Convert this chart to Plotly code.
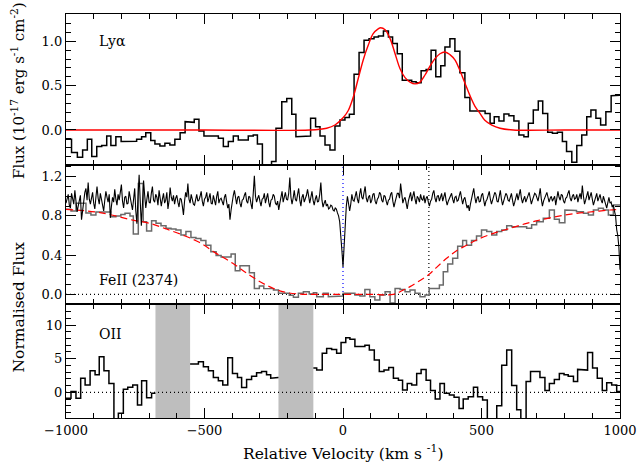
import numpy as np
import plotly.graph_objects as go

# ---------------- data ----------------
# Top panel: Ly-alpha spectrum (histogram, bin left edges in km/s)
lya_v = [-1000, -980, -959, -940, -923, -907, -889, -871, -853, -838, -820, -801, -781, -763,
         -745, -727, -712, -694, -679, -661, -643, -625, -607, -588, -570, -552, -537, -520,
         -502, -485, -468, -450, -432, -414, -396, -378, -360, -342, -324, -309, -291, -276,
         -258, -242, -221, -203, -185, -170, -149, -134, -117, -99, -83, -65, -47, -29, -11,
         7, 23, 40, 58, 76, 94, 112, 128, 146, 164, 179, 196, 214, 232, 248, 264, 282, 300,
         318, 335, 353, 368, 386, 404, 422, 440, 458, 477, 495, 513, 531, 546, 563, 581, 599,
         617, 635, 653, 669, 687, 705, 721, 739, 756, 774, 792, 807, 826, 844, 862, 880, 895,
         913, 930, 949, 968, 986]
lya_flux = [-0.105, -0.255, -0.307, -0.225, -0.105, -0.30, -0.187, -0.176, -0.067, -0.176,
            -0.075, -0.131, -0.127, -0.127, -0.105, -0.075, -0.03, -0.12, -0.157, -0.18,
            -0.15, -0.169, -0.105, -0.03, 0.094, 0.086, 0.12, -0.011, -0.067, -0.067, -0.067,
            -0.094, -0.187, -0.131, -0.067, -0.112, -0.112, -0.067, -0.056, -0.157, -0.6, -0.6,
            -0.356, 0.019, 0.318, 0.356, 0.176, -0.075, -0.067, -0.067, 0.131, 0.037, -0.067,
            -0.169, -0.225, 0.045, 0.112, 0.142, 0.176, 0.629, 0.873, 1.011, 1.03, 1.049, 1.06,
            1.116, 1.049, 0.974, 0.861, 0.562, 0.562, 0.543, 0.532, 0.667, 0.682, 0.899, 0.599,
            0.723, 0.936, 1.03, 0.888, 0.644, 0.367, 0.213, 0.213, 0.213, 0.187, 0.075, 0.15,
            0.101, 0.18, 0.161, 0.101, -0.056, -0.075, 0.075, 0.225, 0.326, 0.187, -0.026,
            -0.037, -0.026, -0.131, -0.243, -0.363, -0.176, -0.056, 0.15, 0.225, 0.131, 0.056,
            0.206, 0.386, 0.393]

# Top panel: fitted double-peak model
lya_model_v = [-1000, -500, -119, -59, -29, 1, 19, 37, 55, 73, 91, 109, 127, 136, 152, 170,
               188, 206, 224, 242, 260, 278, 296, 314, 332, 350, 368, 386, 404, 422, 440, 458,
               476, 494, 512, 537, 567, 615, 800, 1000]
lya_model = [0.0, 0.0, 0.0, 0.02, 0.056, 0.14, 0.22, 0.37, 0.58, 0.79, 0.955, 1.086, 1.14,
             1.153, 1.13, 1.03, 0.86, 0.69, 0.59, 0.54, 0.52, 0.54, 0.62, 0.72, 0.805, 0.86,
             0.88, 0.85, 0.79, 0.67, 0.53, 0.39, 0.27, 0.19, 0.11, 0.056, 0.02, 0.0, 0.0, 0.0]

# Middle panel: FeII (2374) histogram (bin left edges)
feii_v = [-1000, -982, -964, -946, -928, -910, -892, -874, -856, -838, -820, -802, -787, -769,
          -757, -739, -721, -709, -691, -675, -657, -639, -621, -603, -585, -567, -549, -531,
          -513, -495, -477, -458, -440, -422, -404, -389, -372, -354, -338, -320, -302, -286,
          -268, -251, -233, -215, -194, -179, -161, -143, -122, -107, -95, -71, -53, -35, 1,
          43, 61, 79, 97, 115, 133, 152, 170, 188, 206, 224, 242, 260, 278, 296, 311, 330,
          348, 362, 378, 396, 414, 432, 446, 464, 482, 500, 519, 537, 555, 573, 591, 609,
          627, 645, 663, 681, 699, 723, 745, 763, 781, 801, 819, 843, 868, 886, 904, 922,
          940, 958, 976]
feii_flux = [0.867, 0.85, 0.93, 0.93, 0.83, 0.81, 0.84, 0.84, 0.84, 0.79, 0.80, 0.815, 0.826,
             0.80, 0.615, 1.13, 0.74, 0.646, 0.75, 0.725, 0.70, 0.675, 0.667, 0.656, 0.605,
             0.64, 0.58, 0.57, 0.55, 0.50, 0.435, 0.395, 0.38, 0.38, 0.41, 0.24, 0.29, 0.29,
             0.22, 0.06, 0.085, 0.06, 0.058, 0.044, 0.01, 0.01, -0.01, -0.03, 0.01, 0.027,
             0.003, 0.017, -0.024, 0.01, -0.024, -0.017, 0.01, -0.007, -0.017, 0.05, -0.024,
             -0.058, -0.007, 0.027, -0.09, 0.06, 0.05, 0.027, 0.044, 0.01, -0.024, -0.007,
             0.06, 0.06, 0.095, 0.23, 0.31, 0.367, 0.49, 0.55, 0.50, 0.55, 0.595, 0.656, 0.64,
             0.605, 0.64, 0.656, 0.70, 0.69, 0.69, 0.69, 0.675, 0.71, 0.74, 0.776, 0.86,
             0.765, 0.73, 0.86, 0.854, 0.843, 0.826, 0.81, 0.86, 0.877, 0.86, 0.81, 0.91]

# Middle panel: model (red dashed)
feii_model_v = [-1000, -877, -759, -699, -639, -579, -519, -459, -398, -338, -278, -218,
                -158, -100, 0, 100, 182, 218, 242, 278, 311, 338, 374, 410, 446, 482, 543,
                603, 663, 723, 784, 844, 904, 964, 1000]
feii_model = [0.867, 0.833, 0.757, 0.725, 0.667, 0.605, 0.53, 0.42, 0.316, 0.197, 0.095,
              0.027, 0.003, 0.0, 0.0, 0.0, 0.0, 0.044, 0.078, 0.14, 0.204, 0.275, 0.367,
              0.445, 0.50, 0.554, 0.622, 0.673, 0.724, 0.765, 0.80, 0.826, 0.843, 0.86, 0.867]

# Middle panel: high-resolution normalised spectrum (black), every 4 km/s, -1000..1000
hires_flux = [
    0.93, 0.99, 1.02, 0.91, 0.88, 1.03, 0.97, 0.92, 1.06, 0.95,
    0.84, 0.90, 0.95, 1.01, 0.76, 0.87, 0.99, 1.04, 1.08, 0.96,
    1.14, 0.97, 0.92, 1.01, 1.04, 0.93, 0.87, 0.99, 1.10, 0.98,
    0.92, 1.03, 0.98, 0.90, 0.85, 0.96, 1.05, 0.99, 0.94, 1.02,
    0.78, 0.90, 0.99, 0.94, 1.07, 0.97, 0.91, 1.02, 0.96, 1.04,
    1.12, 0.95, 0.88, 0.99, 1.00, 0.92, 0.93, 1.05, 0.97, 0.90,
    0.86, 0.97, 1.08, 0.85, 0.72, 1.00, 1.22, 0.95, 0.70, 0.92,
    1.16, 1.01, 0.88, 0.97, 1.05, 0.94, 0.93, 1.03, 1.10, 0.96,
    0.94, 1.02, 0.99, 0.91, 1.06, 0.98, 0.90, 0.97, 1.03, 0.93,
    0.96, 1.04, 0.87, 0.95, 1.09, 0.99, 0.95, 1.01, 0.92, 0.98,
    1.01, 0.94, 0.89, 0.98, 0.97, 0.90, 0.81, 0.95, 1.04, 0.99,
    1.13, 0.97, 0.93, 1.02, 0.98, 0.92, 0.91, 0.99, 1.02, 0.95,
    0.96, 1.00, 1.05, 0.95, 0.90, 0.97, 0.99, 1.04, 0.94, 0.98,
    1.03, 0.93, 0.92, 1.01, 0.97, 0.91, 1.00, 1.05, 0.93, 0.97,
    0.98, 0.93, 0.91, 0.99, 1.02, 0.94, 0.88, 0.92, 0.76, 0.86,
    0.95, 1.01, 1.06, 0.97, 0.92, 0.99, 1.00, 0.93, 0.89, 0.96,
    0.97, 1.01, 1.04, 0.95, 0.93, 1.00, 0.99, 0.92, 0.87, 1.03,
    1.21, 1.00, 0.94, 0.98, 1.01, 0.95, 0.90, 0.97, 0.98, 1.03,
    0.93, 0.98, 1.03, 0.94, 0.89, 0.96, 0.97, 1.02, 1.00, 0.93,
    0.91, 0.95, 0.86, 0.93, 0.99, 1.05, 0.94, 0.98, 1.04, 0.97,
    0.96, 1.03, 1.19, 0.99, 0.92, 0.98, 1.06, 0.97, 0.95, 1.02,
    1.08, 0.96, 0.90, 0.99, 1.02, 0.94, 0.97, 1.01, 1.07, 0.98,
    0.93, 0.99, 1.05, 0.96, 0.91, 0.97, 1.01, 0.94, 0.95, 1.02,
    1.14, 0.96, 0.89, 0.93, 0.96, 0.90, 0.92, 0.87, 0.88, 0.91,
    0.90, 0.86, 0.85, 0.88, 0.87, 0.83, 0.80, 0.74, 0.62, 0.45,
    0.28, 0.50, 0.70, 0.90, 1.00, 0.93, 0.85, 0.92, 1.02, 0.96,
    0.95, 1.00, 1.05, 0.97, 0.93, 1.02, 1.08, 0.99, 0.97, 1.04,
    1.10, 0.98, 0.94, 0.99, 1.01, 0.93, 0.96, 1.02, 1.03, 0.95,
    0.92, 0.97, 0.99, 1.04, 1.02, 0.96, 0.94, 1.01, 1.00, 0.95,
    0.91, 0.96, 0.97, 1.02, 1.04, 0.95, 0.89, 0.94, 0.98, 1.03,
    1.03, 0.98, 1.13, 1.00, 0.93, 0.97, 0.99, 0.93, 0.87, 0.95,
    1.00, 1.04, 0.95, 0.99, 1.05, 0.97, 0.92, 1.00, 0.98, 0.94,
    1.02, 0.97, 0.96, 1.01, 0.93, 0.98, 1.00, 0.94, 0.90, 0.95,
    0.97, 1.03, 1.06, 0.98, 0.94, 1.00, 1.01, 0.95, 0.99, 1.03,
    0.95, 0.99, 1.04, 0.96, 0.91, 0.95, 0.98, 1.02, 1.03, 0.97,
    0.93, 0.99, 1.00, 0.95, 0.96, 1.01, 1.05, 0.98, 0.92, 0.97,
    0.99, 0.93, 0.88, 0.91, 0.85, 0.92, 0.97, 1.02, 1.08, 0.99,
    0.93, 0.98, 1.00, 0.94, 0.95, 1.01, 1.03, 0.96, 0.90, 0.95,
    0.97, 1.01, 1.05, 0.97, 0.92, 0.96, 0.99, 1.04, 1.02, 0.95,
    0.94, 1.00, 1.06, 0.97, 0.91, 0.95, 0.98, 1.03, 1.01, 0.96,
    0.95, 0.99, 1.03, 0.96, 0.90, 0.94, 0.99, 1.03, 0.96, 1.01,
    1.07, 0.98, 0.93, 0.97, 1.00, 0.94, 0.97, 1.02, 1.04, 0.98,
    0.92, 0.96, 0.99, 1.03, 1.02, 0.97, 0.95, 1.01, 1.08, 0.97,
    0.90, 0.95, 0.98, 1.02, 1.04, 0.99, 0.94, 0.98, 1.00, 0.95,
    0.97, 1.00, 0.91, 0.97, 1.05, 0.99, 0.96, 1.02, 1.01, 0.95,
    0.93, 0.98, 0.99, 1.03, 1.06, 0.98, 0.95, 1.00, 1.02, 0.97,
    0.98, 1.02, 0.94, 0.99, 1.03, 0.97, 1.11, 1.00, 0.92, 0.96,
    1.00, 1.05, 0.96, 0.99, 1.04, 0.97, 0.91, 0.95, 0.99, 1.03,
    0.95, 0.99, 1.02, 0.96, 0.93, 1.00, 0.97, 0.92, 0.88, 0.95,
    0.99, 0.93, 0.94, 0.89, 0.91, 0.85, 0.80, 0.66, 0.60, 0.48,
    0.25]

# Bottom panel: OII histogram (None = masked region)
oii_v = [-1000, -982, -964, -947, -931, -913, -895, -880, -863, -845, -827, -811, -793, -777,
         -759, -742, -727, -709, -691, -677,
         -552, -522, -504, -486, -468, -450, -434, -416, -399, -381, -366, -348, -330, -312,
         -294, -276, -261, -249, -233,
         -107, -95, -75, -59, -41, -23, -7, 10, 25, 43, 61, 79, 95, 113, 131, 148, 165, 182,
         200, 215, 232, 248, 266, 282, 300, 316, 333, 350, 366, 384, 401, 419, 434, 452,
         471, 486, 504, 521, 555, 573, 591, 609, 627, 642, 661, 677, 711, 729, 745, 763,
         781, 798, 813, 832, 847, 865, 883, 901, 918, 936, 952, 970, 988]
oii_flux = [-0.9, 0.1, -0.9, 2.1, 1.1, 3.2, 2.6, 5.3, 3.2, 1.3, -6.0, -3.1, 0.45, 0.74, 1.1,
            -1.9, 1.7, -0.8, -0.15, None,
            4.2, 4.55, 3.8, 3.2, 2.2, 1.7, 1.1, 5.15, 2.8, 2.2, 0.7, 1.9, 2.4, 2.9, 3.1, 2.6,
            2.1, 2.2, None,
            3.6, 3.3, 5.8, 6.5, 6.35, 5.8, 7.4, 8.1, 7.9, 6.8, 6.8, 7.0, 6.3, 4.8, 3.1, 3.3,
            3.7, 2.1, 1.8, 0.35, 1.3, 1.1, 2.8, 3.4, 1.8, 0.25, -1.0, 1.3, -0.15, -0.4, -0.75,
            -2.4, -1.0, -0.65, 0.75, -0.65, -1.14, -6.0, -2.0, 4.0, 6.3, 1.0, -2.6, -6.0, 1.6,
            3.1, 2.2, 0.25, 1.3, 1.9, 2.8, 2.6, 2.4, 1.6, 3.4, 3.3, 5.9, 3.6, 2.1, 0.25, 1.4,
            1.1, 0.1]

# masked (shaded) velocity ranges in the OII panel
oii_masks = [(-677, -552), (-233, -107)]
# reference velocities marked in the FeII panel
vmarks = [(0, "blue"), (310, "black")]

# ---------------- helpers ----------------
V_END = 1000


def steps(edges, vals, end=V_END):
    xs, ys = [], []
    for i, (e, v) in enumerate(zip(edges, vals)):
        nxt = edges[i + 1] if i + 1 < len(edges) else end
        if v is None:
            xs.append(None)
            ys.append(None)
            continue
        xs += [e, nxt]
        ys += [v, v]
    return xs, ys


FONT = "DejaVu Serif"
fig = go.Figure()

# top panel
x, y = steps(lya_v, lya_flux)
fig.add_trace(go.Scatter(x=x, y=y, mode="lines", line=dict(color="black", width=1.5),
                         xaxis="x", yaxis="y", showlegend=False))
fig.add_trace(go.Scatter(x=lya_model_v, y=lya_model, mode="lines", line_shape="spline",
                         line=dict(color="red", width=1.4), xaxis="x", yaxis="y",
                         showlegend=False))

# middle panel
x, y = steps(feii_v, feii_flux)
fig.add_trace(go.Scatter(x=x, y=y, mode="lines", line=dict(color="#6a6a6a", width=1.5),
                         xaxis="x2", yaxis="y2", showlegend=False))
fig.add_trace(go.Scatter(x=feii_model_v, y=feii_model, mode="lines", line_shape="spline",
                         line=dict(color="red", width=1.2, dash="7px,4px"),
                         xaxis="x2", yaxis="y2", showlegend=False))
hires_v = np.linspace(-1000, 1000, len(hires_flux))
fig.add_trace(go.Scatter(x=hires_v, y=hires_flux, mode="lines",
                         line=dict(color="black", width=1.1), xaxis="x2", yaxis="y2",
                         showlegend=False))

# bottom panel
x, y = steps(oii_v, oii_flux)
fig.add_trace(go.Scatter(x=x, y=y, mode="lines", line=dict(color="black", width=1.5),
                         xaxis="x3", yaxis="y3", showlegend=False, connectgaps=False))

shapes = []
for ax in ("2", "3"):
    shapes.append(dict(type="line", xref="x" + ax, yref="y" + ax, x0=-1000, x1=1000,
                       y0=0, y1=0, line=dict(color="black", width=1.2, dash="1px,3px"),
                       layer="below"))
for a, b in oii_masks:
    shapes.append(dict(type="rect", xref="x3", yref="y3 domain", x0=a, x1=b, y0=0, y1=1,
                       fillcolor="#bebebe", line=dict(width=0), layer="below"))
for v, c in vmarks:
    shapes.append(dict(type="line", xref="x2", yref="y2 domain", x0=v, x1=v, y0=0, y1=1,
                       line=dict(color=c, width=1.2, dash="1px,3px"), layer="below"))

common = dict(showline=True, linewidth=1.3, linecolor="black", mirror="ticks",
              ticks="inside", ticklen=10, tickwidth=1.2, tickcolor="black",
              showgrid=False, zeroline=False, automargin=False,
              tickfont=dict(family=FONT, size=13, color="black"))


def xax(anchor, labels):
    d = dict(common)
    d.update(domain=[0, 1], anchor=anchor, range=[-1000, 1000], tickmode="linear",
             tick0=-1000, dtick=500, showticklabels=labels,
             minor=dict(ticks="inside", ticklen=5, tickwidth=1, tickcolor="black",
                        tickmode="linear", tick0=-1000, dtick=100))
    return d


def yax(anchor, dom, rng, dtick, mdt, fmt):
    d = dict(common)
    d.update(domain=dom, anchor=anchor, range=rng, tickmode="linear", tick0=0,
             dtick=dtick, tickformat=fmt,
             minor=dict(ticks="inside", ticklen=5, tickwidth=1, tickcolor="black",
                        tickmode="linear", tick0=0, dtick=mdt))
    return d


PH = 404.0
d1 = (418 - 165) / PH
d2 = (418 - 304) / PH

annotations = [
    dict(text="Lyα", x=-888, y=1.0, xref="x", yref="y", xanchor="left", yanchor="middle",
         showarrow=False, font=dict(family=FONT, size=14, color="black")),
    dict(text="FeII (2374)", x=-888, y=0.15, xref="x2", yref="y2", xanchor="left",
         yanchor="middle", showarrow=False, font=dict(family=FONT, size=14, color="black")),
    dict(text="OII", x=-888, y=8.7, xref="x3", yref="y3", xanchor="left", yanchor="middle",
         showarrow=False, font=dict(family=FONT, size=14, color="black")),
    dict(text="Flux (10<sup>-17</sup> erg s<sup>-1</sup> cm<sup>-2</sup>)",
         x=(18 - 66) / 554, y=(418 - 91) / PH, xref="paper", yref="paper",
         xanchor="center", yanchor="middle", textangle=-90, showarrow=False,
         font=dict(family=FONT, size=15, color="black")),
    dict(text="Normalised Flux", x=(18 - 66) / 554, y=(418 - 307.5) / PH, xref="paper",
         yref="paper", xanchor="center", yanchor="middle", textangle=-90, showarrow=False,
         font=dict(family=FONT, size=15.5, color="black")),
    dict(text="Relative Velocity (km s <sup>-1</sup>)", x=0.5, y=(418 - 452) / PH,
         xref="paper", yref="paper", xanchor="center", yanchor="middle", showarrow=False,
         font=dict(family=FONT, size=15.5, color="black")),
]

fig.update_layout(
    width=637, height=463, autosize=False,
    margin=dict(l=66, r=17, t=14, b=45, autoexpand=False),
    paper_bgcolor="white", plot_bgcolor="white",
    xaxis=xax("y", False),
    xaxis2=xax("y2", False),
    xaxis3=xax("y3", True),
    yaxis=yax("x", [d1, 1], [-0.395, 1.308], 0.5, 0.1, ".1f"),
    yaxis2=yax("x2", [d2, d1], [-0.099, 1.319], 0.4, 0.1, ".1f"),
    yaxis3=yax("x3", [0, d2], [-3.82, 13.12], 5, 1, "d"),
    shapes=shapes,
    annotations=annotations,
    showlegend=False,
)

fig.write_html("out.html", config={"responsive": False})
